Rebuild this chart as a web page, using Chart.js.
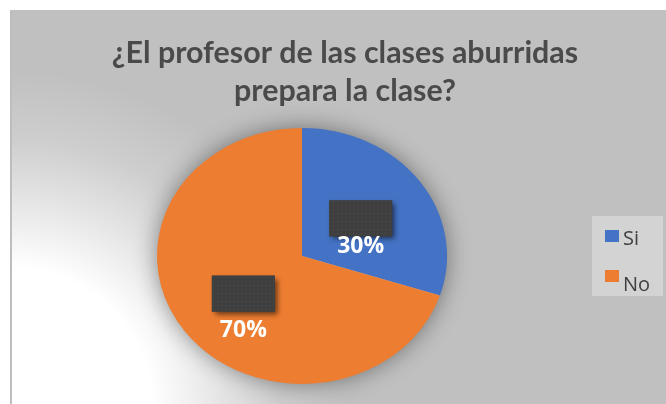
<!DOCTYPE html>
<html><head><meta charset="utf-8">
<script src="https://cdn.jsdelivr.net/npm/chart.js@4"></script>
<style>html,body{margin:0;padding:0;background:#fff;overflow:hidden}</style>
</head><body>
<canvas id="c" width="666" height="404"></canvas>
<script>
// ---- data ----
const categories = ['Si', 'No'];
const percentages = [30, 70];
const seriesColors = ['#4472C4', '#ED7D31'];
const titleLines = ['¿El profesor de las clases aburridas', 'prepara la clase?'];

// ---- styles ----
const ELLIPSE_X = 145 / 128;
const labelTextOffsets = [28, 37];
const titleFamily = 'Lato, "Open Sans", sans-serif';

// fit title font size to reference width
const mctx = document.createElement('canvas').getContext('2d');
mctx.font = 'bold 30px ' + titleFamily;
const tw = mctx.measureText(titleLines[0]).width;
const titleSize = Math.round(30 * 466 / tw * 10) / 10;

// pattern for the label boxes
const pat = document.createElement('canvas');
pat.width = 8; pat.height = 8;
{
  const p = pat.getContext('2d');
  p.fillStyle = '#3f3f3f'; p.fillRect(0, 0, 8, 8);
  p.fillStyle = '#505050';
  p.fillRect(1, 1, 1, 1); p.fillRect(5, 5, 1, 1);
  p.fillStyle = '#484848';
  p.fillRect(5, 1, 1, 1); p.fillRect(1, 5, 1, 1);
}

const background = {
  id: 'background',
  beforeDraw(chart) {
    const ctx = chart.ctx;
    ctx.save();
    ctx.fillStyle = '#ffffff';
    ctx.fillRect(0, 0, chart.width, chart.height);
    ctx.fillStyle = '#c0c0c0';
    ctx.fillRect(10, 10, chart.width - 10, chart.height - 10);
    const g = ctx.createRadialGradient(10, 410, 0, 10, 410, 340);
    g.addColorStop(0, 'rgba(255,255,255,1)');
    g.addColorStop(0.42, 'rgba(255,255,255,1)');
    g.addColorStop(0.6, 'rgba(255,255,255,0.62)');
    g.addColorStop(0.8, 'rgba(255,255,255,0.22)');
    g.addColorStop(1, 'rgba(255,255,255,0)');
    ctx.fillStyle = g;
    ctx.fillRect(10, 10, chart.width - 10, chart.height - 10);
    ctx.fillStyle = '#bdbdbd';
    ctx.fillRect(10, 10, 2, chart.height - 10);
    ctx.restore();
  }
};

const ellipse = {
  id: 'ellipse',
  beforeDatasetsDraw(chart) {
    const a = chart.chartArea, ctx = chart.ctx;
    const cx = (a.left + a.right) / 2, cy = (a.top + a.bottom) / 2;
    const meta = chart.getDatasetMeta(0);
    const r = meta.data[0].outerRadius;
    ctx.save();
    ctx.shadowColor = 'rgba(0,0,0,0.45)';
    ctx.shadowBlur = 24;
    ctx.fillStyle = '#c0c0c0';
    ctx.beginPath();
    ctx.ellipse(cx, cy, r * ELLIPSE_X - 1, r - 1, 0, 0, Math.PI * 2);
    ctx.fill();
    ctx.restore();
    ctx.save();
    ctx.translate(cx, cy);
    ctx.scale(ELLIPSE_X, 1);
    ctx.translate(-cx, -cy);
  },
  afterDatasetsDraw(chart) {
    const ctx = chart.ctx;
    ctx.restore();
    const a = chart.chartArea;
    const cx = (a.left + a.right) / 2;
    const meta = chart.getDatasetMeta(0);
    meta.data.forEach((arc, i) => {
      const c = arc.getCenterPoint();
      const x = cx + (c.x - cx) * ELLIPSE_X, y = c.y;
      const bw = 63, bh = 36;
      ctx.save();
      ctx.shadowColor = 'rgba(0,0,0,0.55)';
      ctx.shadowBlur = 5;
      ctx.shadowOffsetX = 3;
      ctx.shadowOffsetY = 3;
      ctx.fillStyle = '#404040';
      ctx.fillRect(x - bw / 2, y - bh / 2, bw, bh);
      ctx.restore();
      ctx.save();
      ctx.fillStyle = ctx.createPattern(pat, 'repeat');
      ctx.fillRect(x - bw / 2, y - bh / 2, bw, bh);
      ctx.restore();
      ctx.save();
      ctx.fillStyle = '#ffffff';
      ctx.font = 'bold 23px "Open Sans", sans-serif';
      ctx.textAlign = 'center';
      ctx.textBaseline = 'middle';
      ctx.fillText(percentages[i] + '%', x, y + labelTextOffsets[i]);
      ctx.restore();
    });
  }
};

const sideLegend = {
  id: 'sideLegend',
  beforeInit(chart) {
    const box = {
      position: 'right', weight: 1000, fullSize: false,
      options: {},
      left: 0, top: 0, right: 0, bottom: 0, width: 0, height: 0,
      isHorizontal() { return false; },
      getPadding() { return { top: 0, left: 0, right: 0, bottom: 0 }; },
      update(maxW, maxH) { this.width = 86; this.height = maxH; return {}; },
      draw() {
        const ctx = chart.ctx;
        const cy = (this.top + this.bottom) / 2;
        const x0 = this.left + 12;
        ctx.save();
        ctx.fillStyle = '#d3d3d3';
        ctx.fillRect(x0, cy - 40, 71, 80);
        ctx.font = '20px "Open Sans", sans-serif';
        ctx.textBaseline = 'alphabetic';
        const rows = [{ sq: -26, tb: -11 }, { sq: 14, tb: 35 }];
        categories.forEach((label, i) => {
          ctx.fillStyle = seriesColors[i];
          ctx.fillRect(x0 + 13, cy + rows[i].sq, 14, 12);
          ctx.fillStyle = '#404040';
          ctx.fillText(label, x0 + 31, cy + rows[i].tb);
        });
        ctx.restore();
      }
    };
    Chart.layouts.addBox(chart, box);
  }
};

new Chart(document.getElementById('c'), {
  type: 'pie',
  data: {
    labels: categories,
    datasets: [{
      data: percentages,
      backgroundColor: seriesColors,
      borderWidth: 0,
      hoverOffset: 0
    }]
  },
  options: {
    responsive: false,
    animation: false,
    devicePixelRatio: 1,
    layout: { padding: { top: 0, left: 24, right: 0, bottom: 20 } },
    plugins: {
      legend: { display: false },
      tooltip: { enabled: false },
      title: {
        display: true,
        text: titleLines,
        color: '#4a4a4a',
        font: { family: titleFamily, size: titleSize, weight: 'bold', lineHeight: 38 / titleSize },
        padding: { top: 34, bottom: 18 }
      }
    }
  },
  plugins: [background, ellipse, sideLegend]
});
</script>
</body></html>
